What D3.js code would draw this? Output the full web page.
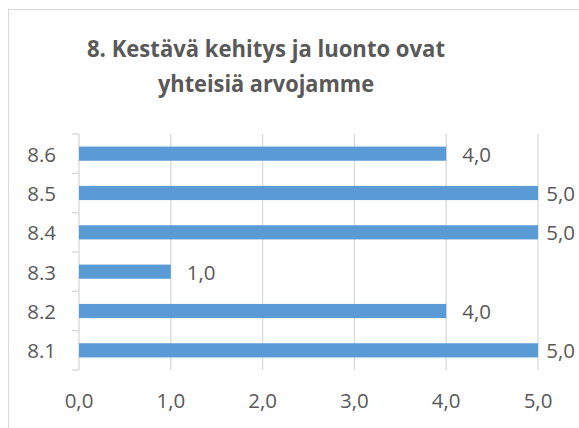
<!DOCTYPE html>
<head>
<meta charset="UTF-8">
<title>8. Kestävä kehitys ja luonto ovat yhteisiä arvojamme</title>
<style>
body { margin: 0; background: #fff; }
text { fill: #595959; }
.title { font: bold 24px "Open Sans", sans-serif; }
.lbl { font: 20.5px "Open Sans", sans-serif; }
.grid { stroke: #d9d9d9; stroke-width: 1.3px; }
</style>
<body>
<script src="https://cdn.jsdelivr.net/npm/d3@7"></script>
<script>

// data
var categories = ["8.6", "8.5", "8.4", "8.3", "8.2", "8.1"];
var values = [4, 5, 5, 1, 4, 5];
var xTicks = [0, 1, 2, 3, 4, 5];
var titleLines = ["8. Kestävä kehitys ja luonto ovat", "yhteisiä arvojamme"];
var titleWidths = [358, 216];

var W = 579, H = 428;
var fmt = function(v) { return d3.format(".1f")(v).replace(".", ","); };

var svg = d3.select("body").append("svg")
    .attr("width", W)
    .attr("height", H);

// chart border (right and bottom edges run off the picture)
svg.append("rect")
    .attr("x", 8.5).attr("y", 9.5)
    .attr("width", W + 10).attr("height", H + 10)
    .attr("fill", "none")
    .attr("stroke", "#d9d9d9");

// title
svg.selectAll("text.title")
    .data(titleLines)
  .enter().append("text")
    .attr("class", "title")
    .attr("x", 266)
    .attr("y", function(d, i) { return 57 + i * 35; })
    .attr("text-anchor", "middle")
    .attr("textLength", function(d, i) { return titleWidths[i]; })
    .attr("lengthAdjust", "spacingAndGlyphs")
    .text(function(d) { return d; });

// scales
var x = d3.scaleLinear().domain([0, 5]).range([79, 538]);
var y = d3.scaleBand().domain(categories).range([134, 370]);

// vertical gridlines
svg.selectAll("line.grid")
    .data(xTicks)
  .enter().append("line")
    .attr("class", "grid")
    .attr("x1", function(d) { return x(d); })
    .attr("x2", function(d) { return x(d); })
    .attr("y1", 134)
    .attr("y2", 370);

// category tick marks on the left axis
var bounds = categories.map(function(c) { return y(c); }).concat([370]);
svg.selectAll("line.tick")
    .data(bounds)
  .enter().append("line")
    .attr("class", "grid")
    .attr("x1", 72).attr("x2", x(0))
    .attr("y1", function(d) { return d; })
    .attr("y2", function(d) { return d; });

// bars
var bh = y.bandwidth() * 0.36;
svg.selectAll("rect.bar")
    .data(values)
  .enter().append("rect")
    .attr("class", "bar")
    .attr("x", x(0))
    .attr("y", function(d, i) { return y(categories[i]) + (y.bandwidth() - bh) / 2; })
    .attr("width", function(d) { return x(d) - x(0); })
    .attr("height", bh)
    .attr("fill", "#5b9bd5");

// category labels
svg.selectAll("text.cat")
    .data(categories)
  .enter().append("text")
    .attr("class", "lbl")
    .attr("x", 56)
    .attr("y", function(d) { return y(d) + y.bandwidth() / 2 + 8; })
    .attr("text-anchor", "end")
    .text(function(d) { return d; });

// x tick labels
svg.selectAll("text.xt")
    .data(xTicks)
  .enter().append("text")
    .attr("class", "lbl")
    .attr("x", function(d) { return x(d); })
    .attr("y", 408)
    .attr("text-anchor", "middle")
    .text(fmt);

// value labels, pushed back inside the chart if they would overflow
svg.selectAll("text.val")
    .data(values)
  .enter().append("text")
    .attr("class", "lbl")
    .attr("y", function(d, i) { return y(categories[i]) + y.bandwidth() / 2 + 8; })
    .text(fmt)
    .attr("x", function(d) {
      var w = this.getComputedTextLength();
      return Math.min(x(d) + 16, 575 - w);
    });

</script>
</body>
